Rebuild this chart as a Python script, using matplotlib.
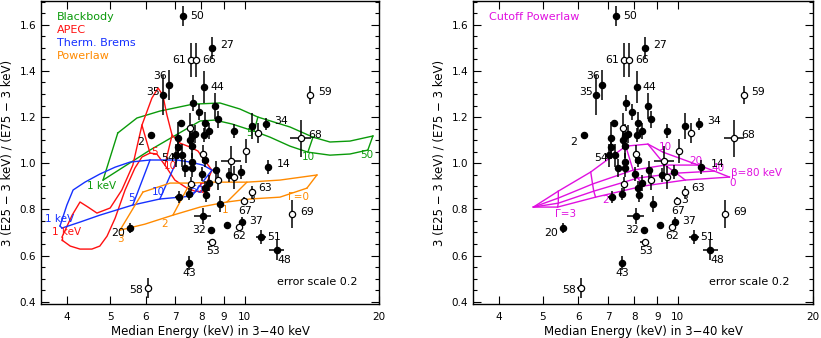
import matplotlib
matplotlib.use('Agg')
import matplotlib.pyplot as plt
from matplotlib.ticker import FixedLocator, FixedFormatter, NullLocator, MultipleLocator, FormatStrFormatter

plt.rcParams['font.family'] = ['DejaVu Sans']

# ---------------- sources ----------------
src_label = ['50', '27', '61', '66', '44', '59', '34', '68', '14', '63', '67', '37', '62',
             '51', '48', '69', '32', '53', '43', '20', '58', '2', '35', '36', '54'] + [''] * 41
src_E = [7.28, 8.45, 7.58, 7.78, 8.11, 14.01, 11.17, 13.37, 11.28, 10.39, 9.97, 9.87, 9.71,
         10.88, 11.82, 12.77, 8.07, 8.45, 7.51, 5.54, 6.08, 6.17, 6.56, 6.77, 7.02,
         7.66, 7.90, 8.58, 8.72, 7.20, 7.55, 7.62, 7.74, 8.15, 8.32, 8.11, 9.47, 10.39, 10.71,
         7.09, 7.09, 7.55, 7.62, 7.24, 7.35, 7.62, 8.07, 8.15, 10.07, 9.32, 9.47, 9.23, 9.81,
         8.63, 8.72, 8.03, 8.32, 8.15, 8.19, 7.51, 7.58, 7.13, 8.81, 8.41, 9.13, 7.62]
src_R = [1.638, 1.499, 1.447, 1.447, 1.330, 1.295, 1.170, 1.109, 0.983, 0.875, 0.836, 0.745, 0.723,
         0.680, 0.624, 0.780, 0.771, 0.658, 0.567, 0.719, 0.459, 1.122, 1.295, 1.339, 1.035,
         1.261, 1.222, 1.248, 1.191, 1.174, 1.152, 1.118, 1.126, 1.174, 1.139, 1.122, 1.139, 1.161, 1.131,
         1.109, 1.070, 1.100, 1.074, 1.035, 0.979, 1.005, 1.040, 1.014, 1.053, 1.009, 0.940, 0.950, 0.962,
         0.970, 0.927, 0.953, 0.914, 0.892, 0.862, 0.866, 0.910, 0.853, 0.823, 0.710, 0.732, 0.979]
src_yerr = [0.045, 0.048, 0.074, 0.074, 0.07, 0.04, 0.026, 0.08, 0.03, 0.025, 0.018, 0.022, 0.01,
            0.03, 0.045, 0.06, 0.035, 0.012, 0.03, 0.02, 0.045, 0.0, 0.087, 0.065, 0.05,
            0.035, 0.035, 0.055, 0.037, 0.0, 0.065, 0.05, 0.04, 0.05, 0.035, 0.03, 0.03, 0.055, 0.045,
            0.07, 0.05, 0.04, 0.05, 0.05, 0.04, 0.04, 0.04, 0.03, 0.05, 0.065, 0.05, 0.03, 0.03,
            0.04, 0.045, 0.03, 0.035, 0.03, 0.03, 0.025, 0.03, 0.025, 0.035, 0.012, 0.01, 0.04]
src_xerr = [0.05, 0.05, 0.0, 0.0, 0.05, 0.0, 0.05, 0.7, 0.05, 0.05, 0.0, 0.08, 0.15,
            0.28, 0.45, 0.0, 0.35, 0.2, 0.1, 0.05, 0.1, 0.0, 0.05, 0.08, 0.05,
            0.05, 0.05, 0.05, 0.05, 0.0, 0.0, 0.05, 0.05, 0.05, 0.05, 0.05, 0.05, 0.05, 0.0,
            0.05, 0.05, 0.05, 0.05, 0.05, 0.05, 0.05, 0.0, 0.05, 0.0, 0.48, 0.0, 0.05, 0.05,
            0.05, 0.0, 0.05, 0.05, 0.05, 0.05, 0.05, 0.0, 0.15, 0.05, 0.05, 0.12, 0.05]
src_open = [0, 0, 1, 1, 0, 1, 0, 1, 0, 1, 1, 0, 1,
            0, 0, 1, 0, 1, 0, 0, 1, 0, 0, 0, 0,
            0, 0, 0, 0, 0, 1, 0, 0, 0, 0, 0, 0, 0, 1,
            0, 0, 0, 0, 0, 0, 0, 1, 0, 1, 1, 1, 0, 0,
            0, 1, 0, 0, 0, 0, 0, 1, 0, 0, 0, 0, 0]

# ---------------- model grids (left panel) ----------------
bb_hi_E = [5.20, 5.74, 6.46, 7.66, 8.81, 9.76, 10.71, 12.64, 14.23, 15.53, 17.22, 19.38]
bb_hi_R = [1.131, 1.196, 1.226, 1.256, 1.261, 1.235, 1.200, 1.157, 1.113, 1.092, 1.096, 1.118]
bb_lo_E = [4.82, 6.14, 7.95, 8.58, 9.37, 10.50, 11.40, 12.64, 13.86, 15.53, 17.22, 18.88]
bb_lo_R = [0.927, 1.057, 1.183, 1.187, 1.170, 1.139, 1.113, 1.074, 1.048, 1.035, 1.040, 1.057]
bb_links = [(0, 0), (6, 5), (8, 8), (11, 11)]
bb_text = ['1 keV', '5', '10', '50']
bb_text_E = [4.79, 10.28, 13.86, 18.8]
bb_text_R = [0.901, 1.131, 1.027, 1.035]

apec_hi_E = [3.90, 4.11, 4.28, 4.46, 4.67, 5.00, 5.31, 5.62, 5.89, 6.20, 6.40, 6.56, 6.70, 6.88,
             7.17, 7.55, 7.86, 8.19, 8.45]
apec_hi_R = [0.680, 0.775, 0.832, 0.810, 0.784, 0.806, 0.884, 0.992, 1.165, 1.282, 1.326, 1.295,
             1.209, 1.122, 1.087, 1.070, 1.053, 1.005, 0.970]
apec_lo_E = [3.90, 4.07, 4.28, 4.55, 4.74, 4.92, 5.13, 5.40, 5.68, 5.89, 6.14, 6.36, 6.63, 6.98,
             7.43, 7.74, 8.07]
apec_lo_R = [0.667, 0.641, 0.628, 0.628, 0.641, 0.684, 0.762, 0.884, 0.979, 1.027, 1.044, 1.040,
             0.992, 0.927, 0.892, 0.879, 0.875]
apec_links = [(0, 0), (8, 10), (13, 12), (18, 16)]
apec_text = ['1 keV', '5', '10', '50']
apec_text_E = [4.00, 6.30, 6.81, 8.15]
apec_text_R = [0.702, 1.048, 0.988, 0.892]

br_hi_E = [3.86, 4.00, 4.13, 4.39, 4.74, 5.13, 5.54, 6.14, 7.06, 7.55, 8.07, 8.45]
br_hi_R = [0.728, 0.819, 0.884, 0.918, 0.953, 0.983, 1.005, 1.014, 1.014, 1.005, 0.992, 0.970]
br_lo_E = [3.90, 4.28, 4.74, 5.62, 6.46, 7.17, 7.62]
br_lo_R = [0.719, 0.745, 0.775, 0.819, 0.845, 0.853, 0.858]
br_links = [(0, 0), (7, 3), (8, 4), (11, 6)]
br_text = ['1 keV', '5', '10', '50']
br_text_E = [3.86, 5.59, 6.40, 7.82]
br_text_R = [0.758, 0.849, 0.875, 0.884]

pl_hi_E = [5.92, 6.81, 7.55, 8.37, 10.12, 12.00, 14.52]
pl_hi_R = [0.875, 0.914, 0.914, 0.918, 0.918, 0.927, 0.949]
pl_lo_E = [5.26, 5.98, 6.91, 7.95, 9.13, 10.28, 12.00, 13.79]
pl_lo_R = [0.710, 0.736, 0.775, 0.810, 0.832, 0.845, 0.853, 0.892]
pl_links = [(0, 0), (2, 2), (4, 4), (6, 7)]
pl_text = ['3', '2', '1', 'Γ=0']
pl_text_E = [5.26, 6.63, 9.04, 13.23]
pl_text_R = [0.672, 0.737, 0.797, 0.853]

# ---------------- cutoff power-law grid (right panel) ----------------
cpl_beta = [10, 20, 40, 80]
cpl_E = [[4.77, 5.42, 6.40, 7.66, 8.58, 9.27],
         [4.77, 5.42, 6.46, 7.95, 9.37, 11.11],
         [4.77, 5.42, 6.50, 8.15, 9.92, 12.06],
         [4.77, 5.40, 6.56, 8.37, 10.39, 13.03]]
cpl_R = [[0.810, 0.879, 0.962, 1.074, 1.083, 1.048],
         [0.810, 0.849, 0.910, 0.970, 0.992, 0.992],
         [0.810, 0.827, 0.879, 0.936, 0.957, 0.966],
         [0.810, 0.810, 0.853, 0.901, 0.927, 0.940]]
cpl_text = ['10', '20', '40', 'β=80 keV', '0', 'Γ=3', '2']
cpl_text_E = [9.37, 10.94, 12.31, 13.16, 13.03, 5.62, 6.91]
cpl_text_R = [1.070, 1.009, 0.979, 0.957, 0.914, 0.780, 0.840]
cpl_text_ha = ['center', 'center', 'center', 'left', 'left', 'center', 'center']

xticks = [4, 5, 6, 7, 8, 9, 10, 20]
xticklabels = ['4', '5', '6', '7', '8', '9', '10', '20']

# label placement (pixels: right, down, alignment)
LABEL_POS = {
    '50': (7, 0, 'left'), '27': (8, -3, 'left'), '61': (-5, 0, 'right'), '66': (6, 0, 'left'),
    '44': (6, 0, 'left'), '59': (8, -3, 'left'), '34': (8, -3, 'left'), '68': (7, -3, 'left'),
    '14': (9, -3, 'left'), '63': (6, -4, 'left'), '67': (1, 10, 'center'), '37': (7, -1, 'left'),
    '62': (0, 9, 'center'), '51': (6, 0, 'left'), '48': (0, 10, 'left'), '69': (8, -2, 'left'),
    '32': (-4, 14, 'center'), '53': (1, 9, 'center'), '43': (0, 10, 'center'), '20': (-5, 5, 'right'),
    '58': (-5, 2, 'right'), '2': (-7, 7, 'right'), '35': (-3, -3, 'right'), '36': (-2, -9, 'right'),
    '54': (-1, 3, 'right')}

GREEN, RED, BLUE, ORANGE, MAG = '#0a9a0a', '#ff1010', '#1530ff', '#ff8a00', '#e010e0'
LW = 1.0
FS_LAB = 7.8


def setup(ax):
    ax.set_xscale('log')
    ax.set_xlim(3.5, 20)
    ax.set_ylim(0.390, 1.703)
    ax.xaxis.set_major_locator(FixedLocator(xticks))
    ax.xaxis.set_major_formatter(FixedFormatter(xticklabels))
    ax.xaxis.set_minor_locator(NullLocator())
    ax.yaxis.set_major_locator(MultipleLocator(0.2))
    ax.yaxis.set_minor_locator(MultipleLocator(0.05))
    ax.yaxis.set_major_formatter(FormatStrFormatter('%.1f'))
    ax.tick_params(which='both', direction='in', top=True, right=True, labelsize=7.5, width=0.8)
    ax.tick_params(which='major', length=6)
    ax.tick_params(which='minor', length=3)
    ax.tick_params(axis='x', pad=6)
    ax.tick_params(axis='y', pad=3.5)
    for s in ax.spines.values():
        s.set_linewidth(1.0)
    ax.set_xlabel('Median Energy (keV) in 3\u221240 keV', fontsize=8.5, labelpad=2)
    ax.set_ylabel('3 (E25 \u2212 3 keV) / (E75 \u2212 3 keV)', fontsize=8.5, labelpad=4)


def draw_grid(ax, hiE, hiR, loE, loR, links, color):
    ax.plot(hiE, hiR, color=color, lw=LW, zorder=2)
    ax.plot(loE, loR, color=color, lw=LW, zorder=2)
    for i, j in links:
        ax.plot([hiE[i], loE[j]], [hiR[i], loR[j]], color=color, lw=LW, zorder=2)


def draw_texts(ax, texts, tE, tR, color, ha=None):
    for k, (t, e, r) in enumerate(zip(texts, tE, tR)):
        ax.text(e, r, t, color=color, fontsize=7.5, ha=(ha[k] if ha else 'center'),
                va='center', zorder=3)


def draw_sources(ax):
    ax.errorbar(src_E, src_R, yerr=src_yerr, xerr=src_xerr, fmt='none', ecolor='black',
                elinewidth=1.1, capsize=0, zorder=4)
    fE = [e for e, o in zip(src_E, src_open) if not o]
    fR = [r for r, o in zip(src_R, src_open) if not o]
    oE = [e for e, o in zip(src_E, src_open) if o]
    oR = [r for r, o in zip(src_R, src_open) if o]
    ax.plot(fE, fR, 'o', ms=4.4, mfc='black', mec='black', ls='none', zorder=5)
    ax.plot(oE, oR, 'o', ms=4.5, mfc='white', mec='black', mew=0.9, ls='none', zorder=5)
    for lab, e, r in zip(src_label, src_E, src_R):
        if not lab:
            continue
        dx, dy, ha = LABEL_POS[lab]
        ax.annotate(lab, (e, r), xytext=(dx, -dy), textcoords='offset pixels',
                    ha=ha, va='center', fontsize=FS_LAB, zorder=6)
        if lab == '67':
            ax.annotate('3', (e, r), xytext=(4, 1), textcoords='offset pixels',
                        ha='left', va='center', fontsize=FS_LAB, zorder=6)


fig = plt.figure(figsize=(8.21, 3.38), dpi=100)
axL = fig.add_axes([41 / 821, 34 / 338, 338 / 821, 303 / 338])
axR = fig.add_axes([473 / 821, 34 / 338, 340 / 821, 303 / 338])

# left panel
setup(axL)
draw_grid(axL, bb_hi_E, bb_hi_R, bb_lo_E, bb_lo_R, bb_links, GREEN)
draw_grid(axL, apec_hi_E, apec_hi_R, apec_lo_E, apec_lo_R, apec_links, RED)
draw_grid(axL, br_hi_E, br_hi_R, br_lo_E, br_lo_R, br_links, BLUE)
draw_grid(axL, pl_hi_E, pl_hi_R, pl_lo_E, pl_lo_R, pl_links, ORANGE)
draw_texts(axL, bb_text, bb_text_E, bb_text_R, GREEN)
draw_texts(axL, apec_text, apec_text_E, apec_text_R, RED)
draw_texts(axL, br_text, br_text_E, br_text_R, BLUE)
draw_texts(axL, pl_text, pl_text_E, pl_text_R, ORANGE)
draw_sources(axL)
for k, (t, c) in enumerate([('Blackbody', GREEN), ('APEC', RED),
                            ('Therm. Brems', BLUE), ('Powerlaw', ORANGE)]):
    axL.text(0.047, 0.948 - k * 0.043, t, color=c, fontsize=8, transform=axL.transAxes,
             ha='left', va='center')
axL.text(0.698, 0.073, 'error scale 0.2', fontsize=8, transform=axL.transAxes,
         ha='left', va='center')

# right panel
setup(axR)
for Es, Rs in zip(cpl_E, cpl_R):
    axR.plot(Es, Rs, color=MAG, lw=LW, zorder=2)
for g in range(1, len(cpl_E[0])):
    axR.plot([Es[g] for Es in cpl_E], [Rs[g] for Rs in cpl_R], color=MAG, lw=LW, zorder=2)
draw_texts(axR, cpl_text, cpl_text_E, cpl_text_R, MAG, cpl_text_ha)
draw_sources(axR)
axR.text(0.047, 0.948, 'Cutoff Powerlaw', color=MAG, fontsize=8, transform=axR.transAxes,
         ha='left', va='center')
axR.text(0.694, 0.073, 'error scale 0.2', fontsize=8, transform=axR.transAxes,
         ha='left', va='center')

fig.savefig('out.png', dpi=100)
